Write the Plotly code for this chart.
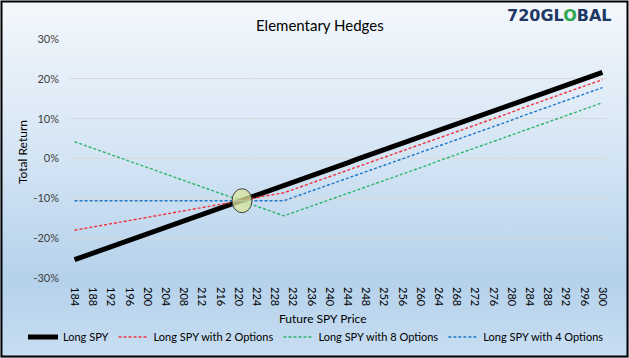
import base64
import plotly.graph_objects as go

# ---------------- data ----------------
spy_price = [184, 186, 188, 190, 192, 194, 196, 198, 200, 202, 204, 206, 208, 210, 212,
             214, 216, 218, 220, 222, 224, 226, 228, 230, 232, 234, 236, 238, 240, 242,
             244, 246, 248, 250, 252, 254, 256, 258, 260, 262, 264, 266, 268, 270, 272,
             274, 276, 278, 280, 282, 284, 286, 288, 290, 292, 294, 296, 298, 300]

long_spy = [-25.4, -24.6, -23.8, -23.0, -22.1, -21.3, -20.5, -19.7, -18.9, -18.1, -17.3,
            -16.5, -15.7, -14.8, -14.0, -13.2, -12.4, -11.6, -10.8, -10.0, -9.2, -8.4,
            -7.5, -6.7, -5.9, -5.1, -4.3, -3.5, -2.7, -1.9, -1.1, -0.2, 0.6, 1.4, 2.2,
            3.0, 3.8, 4.6, 5.4, 6.2, 7.1, 7.9, 8.7, 9.5, 10.3, 11.1, 11.9, 12.7, 13.5,
            14.4, 15.2, 16.0, 16.8, 17.6, 18.4, 19.2, 20.0, 20.8, 21.6]

with_2_options = [-18.0, -17.6, -17.1, -16.7, -16.3, -15.9, -15.5, -15.1, -14.7, -14.3,
                  -13.9, -13.5, -13.1, -12.7, -12.3, -11.9, -11.5, -11.1, -10.7, -10.3,
                  -9.8, -9.4, -9.0, -8.6, -7.8, -7.0, -6.2, -5.4, -4.6, -3.8, -3.0, -2.1,
                  -1.3, -0.5, 0.3, 1.1, 1.9, 2.7, 3.5, 4.3, 5.2, 6.0, 6.8, 7.6, 8.4, 9.2,
                  10.0, 10.8, 11.6, 12.5, 13.3, 14.1, 14.9, 15.7, 16.5, 17.3, 18.1, 18.9,
                  19.8]

with_8_options = [4.2, 3.4, 2.6, 1.8, 1.0, 0.2, -0.6, -1.4, -2.3, -3.1, -3.9, -4.7, -5.5,
                  -6.3, -7.1, -7.9, -8.7, -9.6, -10.4, -11.2, -12.0, -12.8, -13.6, -14.4,
                  -13.6, -12.8, -12.0, -11.2, -10.4, -9.6, -8.8, -7.9, -7.1, -6.3, -5.5,
                  -4.7, -3.9, -3.1, -2.3, -1.5, -0.6, 0.2, 1.0, 1.8, 2.6, 3.4, 4.2, 5.0,
                  5.8, 6.7, 7.5, 8.3, 9.1, 9.9, 10.7, 11.5, 12.3, 13.1, 14.0]

with_4_options = [-10.6, -10.6, -10.6, -10.6, -10.6, -10.6, -10.6, -10.6, -10.6, -10.6,
                  -10.6, -10.6, -10.6, -10.6, -10.6, -10.6, -10.6, -10.6, -10.6, -10.6,
                  -10.6, -10.6, -10.6, -10.6, -9.8, -9.0, -8.2, -7.4, -6.6, -5.8, -4.9,
                  -4.1, -3.3, -2.5, -1.7, -0.9, -0.1, 0.7, 1.5, 2.3, 3.2, 4.0, 4.8, 5.6,
                  6.4, 7.2, 8.0, 8.8, 9.6, 10.5, 11.3, 12.1, 12.9, 13.7, 14.5, 15.3, 16.1,
                  16.9, 17.8]

x_tick_values = [184, 188, 192, 196, 200, 204, 208, 212, 216, 220, 224, 228, 232, 236, 240,
                 244, 248, 252, 256, 260, 264, 268, 272, 276, 280, 284, 288, 292, 296, 300]
y_tick_values = [-30, -20, -10, 0, 10, 20, 30]
y_tick_labels = ["-30%", "-20%", "-10%", "0%", "10%", "20%", "30%"]

crossover_price = 220.8
crossover_return = -10.6

# ---------------- figure ----------------
W, H = 629, 358
L, R, T, B = 70, 22, 39, 80
PW, PH = W - L - R, H - T - B

FONT = "Lato, 'Open Sans', sans-serif"


def px_x(p):
    return (p - L) / PW


def px_y(p):
    return (H - B - p) / PH


fig = go.Figure()

dash = "3px,2px"
fig.add_trace(go.Scatter(x=spy_price, y=long_spy, name="Long SPY", mode="lines",
                         line=dict(color="#000000", width=5)))
fig.add_trace(go.Scatter(x=spy_price, y=with_2_options, name="Long SPY with 2 Options",
                         mode="lines", line=dict(color="#F0323C", width=1.4, dash=dash)))
fig.add_trace(go.Scatter(x=spy_price, y=with_8_options, name="Long SPY with 8 Options",
                         mode="lines", line=dict(color="#2DB56A", width=1.4, dash=dash)))
fig.add_trace(go.Scatter(x=spy_price, y=with_4_options, name="Long SPY with 4 Options",
                         mode="lines", line=dict(color="#1F78C8", width=1.4, dash=dash)))

# gradient background
svg = ('<svg xmlns="http://www.w3.org/2000/svg" width="100" height="100" preserveAspectRatio="none">'
       '<defs><linearGradient id="g" x1="0" y1="0" x2="0" y2="1">'
       '<stop offset="0" stop-color="#F4F8FC"/>'
       '<stop offset="0.45" stop-color="#D3E4F4"/>'
       '<stop offset="0.78" stop-color="#B5D1EB"/>'
       '<stop offset="1" stop-color="#C8DEF2"/>'
       '</linearGradient></defs>'
       '<rect width="100" height="100" fill="url(#g)"/></svg>')
uri = "data:image/svg+xml;base64," + base64.b64encode(svg.encode()).decode()

fig.add_layout_image(dict(source=uri, xref="paper", yref="paper",
                          x=px_x(0), y=px_y(0), sizex=W / PW, sizey=H / PH,
                          xanchor="left", yanchor="top", sizing="stretch",
                          layer="below"))

shapes = [
    # chart border
    dict(type="rect", xref="paper", yref="paper",
         x0=px_x(1.5), x1=px_x(627.5), y0=px_y(356.5), y1=px_y(1.5),
         line=dict(color="#000000", width=2), fillcolor="rgba(0,0,0,0)", layer="above"),
    # highlight ellipse around the crossover
    dict(type="circle", xref="x", yref="y",
         xsizemode="pixel", ysizemode="pixel",
         xanchor=crossover_price, yanchor=crossover_return,
         x0=-10, x1=10, y0=-12, y1=12,
         fillcolor="rgba(216,230,155,0.75)", line=dict(color="#404040", width=1),
         layer="above"),
]

annotations = [
    dict(text="Elementary Hedges", xref="paper", yref="paper",
         x=px_x(320), y=px_y(25), xanchor="center", yanchor="middle",
         showarrow=False, font=dict(family=FONT, size=15, color="#000000")),
    dict(text="<b>720GL<span style='color:#2FA84F'>O</span>BAL</b>",
         xref="paper", yref="paper", x=px_x(614), y=px_y(16),
         xanchor="right", yanchor="middle", showarrow=False,
         font=dict(family="'DejaVu Sans', sans-serif", size=16, color="#1F3864")),
    dict(text="Total Return", xref="paper", yref="paper",
         x=px_x(22), y=px_y(152), xanchor="center", yanchor="middle",
         textangle=-90, showarrow=False, font=dict(family=FONT, size=12, color="#000000")),
    dict(text="Future SPY Price", xref="paper", yref="paper",
         x=px_x(322), y=px_y(318), xanchor="center", yanchor="middle",
         showarrow=False, font=dict(family=FONT, size=12, color="#000000")),
]

fig.update_layout(
    width=W, height=H,
    margin=dict(l=L, r=R, t=T, b=B, autoexpand=False),
    paper_bgcolor="rgba(0,0,0,0)",
    plot_bgcolor="rgba(0,0,0,0)",
    font=dict(family=FONT, size=11, color="#404040"),
    showlegend=True,
    legend=dict(orientation="h", xref="paper", yref="paper",
                x=px_x(23), y=px_y(337), xanchor="left",
                yanchor="middle", bgcolor="rgba(0,0,0,0)",
                font=dict(family=FONT, size=11, color="#000000"),
                itemwidth=30, tracegroupgap=0),
    shapes=shapes,
    annotations=annotations,
    xaxis=dict(range=[183, 301], tickvals=x_tick_values, automargin=False,
               ticktext=[str(v) for v in x_tick_values], tickangle=90,
               showgrid=False, zeroline=False, showline=False, ticks="",
               ticklabelstandoff=8,
               tickfont=dict(family=FONT, size=11, color="#000000")),
    yaxis=dict(range=[-30, 30], tickvals=y_tick_values, ticktext=y_tick_labels,
               automargin=False,
               showgrid=True, gridcolor="#D9D9D9", gridwidth=1,
               zeroline=False, showline=False, ticks="", ticklabelstandoff=10,
               tickfont=dict(family=FONT, size=11, color="#404040")),
)

fig.write_html("out.html", config={"displayModeBar": False},
               post_script="document.body.style.margin='0';")
